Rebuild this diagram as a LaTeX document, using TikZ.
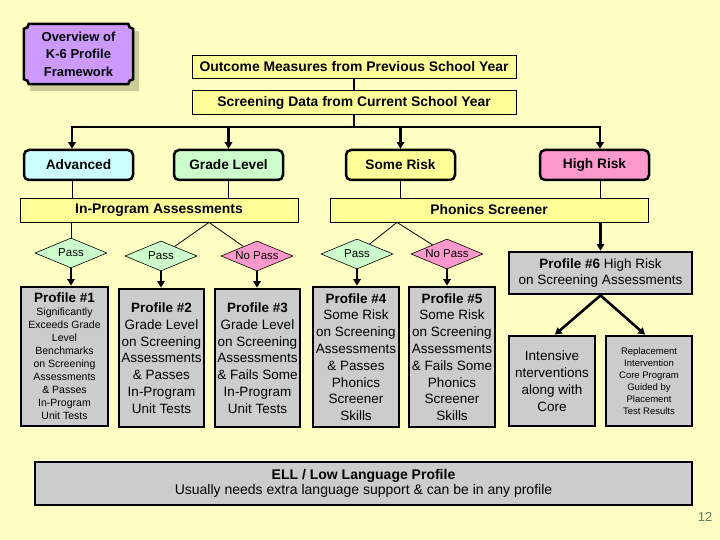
\documentclass[tikz,border=0pt]{standalone}
\usepackage{fontspec}
\setmainfont{Liberation Sans}
\usepackage{tikz}
\usetikzlibrary{%
	calc,%
	arrows.meta,%
	shapes.geometric,%
	positioning,%
	backgrounds,%
}
\definecolor{cpaper}{RGB}{255, 255, 196}
\definecolor{cbar}{RGB}{255, 255, 153}
\definecolor{cgrey}{RGB}{204, 204, 204}
\definecolor{cgreenlight}{RGB}{204, 255, 204}
\definecolor{cpink}{RGB}{255, 153, 204}
\definecolor{ccyan}{RGB}{204, 255, 255}
\definecolor{cpurple}{RGB}{204, 153, 255}
\definecolor{cshadow}{RGB}{204, 204, 153}
\definecolor{cpagenum}{RGB}{96, 128, 96}
\tikzset{
	>={Triangle[width=7.5pt,length=6.5pt]},%
	nodes={align=center, inner sep=0pt},%
	bar/.style={%
			draw,%
			rectangle,%
			line width=0.8pt,%
			fill=cbar,%
			font=\fontsize{13.9}{16}\selectfont\bfseries},%
	level/.style={%
			draw,%
			rectangle,%
			line width=2.5pt,%
			rounded corners=5pt,%
			minimum width=109pt,%
			minimum height=30pt,%
			font=\fontsize{13.7}{16}\selectfont\bfseries},%
	choice/.style={%
			draw,%
			diamond,%
			aspect=2.4,%
			line width=0.6pt,%
			minimum width=72pt,%
			minimum height=30pt,%
			font=\fontsize{11.5}{13}\selectfont},%
	profile/.style={%
			draw,%
			rectangle,%
			line width=2.8pt,%
			fill=cgrey,%
			minimum width=86pt,%
			font=\fontsize{13.5}{16.8}\selectfont},%
	link/.style={line width=0.8pt},%
	push/.style={->, line width=2.6pt},%
}
\newcommand{\profilename}[1]{{\fontsize{13.5}{16}\selectfont\bfseries #1}}

\begin{document}
\begin{tikzpicture}[x=1pt, y=1pt]%
	\begin{scope}[on background layer]
		\fill[cpaper] (0,0) rectangle (720,-540);
	\end{scope}

	\node[font=\fontsize{13}{17.5}\selectfont\bfseries, minimum width=109pt, minimum height=60pt] (overview) at (78.5,-54) {Overview of\\K-6 Profile\\Framework};

	\begin{scope}[on background layer]
		\fill[cshadow] ([shift={(6pt,-7pt)}]overview.north west) rectangle ([shift={(6pt,-7pt)}]overview.south east);
		\draw[line width=2.5pt, fill=cpurple] ([xshift=5pt]overview.north west) -- ([xshift=-5pt]overview.north east)
			arc[start angle=180, end angle=270, radius=5pt] -- ([yshift=5pt]overview.south east)
			arc[start angle=90, end angle=180, radius=5pt] -- ([xshift=5pt]overview.south west)
			arc[start angle=0, end angle=90, radius=5pt] -- ([yshift=-5pt]overview.north west)
			arc[start angle=270, end angle=360, radius=5pt] -- cycle;
	\end{scope}

	\node[bar, minimum width=324pt, minimum height=23pt] (outcome) at (354,-66.5) {Outcome Measures from Previous School Year};

	\node[bar, minimum width=324pt, minimum height=24pt] (screening) [below=12pt of outcome] {Screening Data from Current School Year};

	\node[level, fill=ccyan] (advanced) at (78.5,-165) {Advanced};
	\node[level, fill=cgreenlight] (grade) at (228.5,-165) {Grade Level};
	\node[level, fill=cbar] (somerisk) at (400.5,-165) {Some Risk};
	\node[level, fill=cpink] (highrisk) at (594.5,-165) {High Risk};

	\node[bar, minimum width=278pt, minimum height=24pt] (inprog) at (159,-210) {In-Program Assessments};
	\node[bar, minimum width=318pt, minimum height=24pt] (phonics) at (489,-210) {Phonics Screener};

	\node[choice, fill=cgreenlight] (pass1) at (71,-253) {Pass};
	\node[choice, fill=cgreenlight] (pass2) at (161,-256) {Pass};
	\node[choice, fill=cpink] (nopass3) at (257,-256) {No Pass};
	\node[choice, fill=cgreenlight] (pass4) at (357,-254) {Pass};
	\node[choice, fill=cpink] (nopass5) at (447,-254) {No Pass};

	\node[profile, minimum width=87pt, minimum height=139pt, font=\fontsize{10.5}{13}\selectfont] (prof1) at (64.5,-356.5) {\profilename{Profile \#1}\\
		Significantly\\ Exceeds Grade\\ Level\\ Benchmarks\\ on Screening\\ Assessments\\ \& Passes\\ In-Program\\ Unit Tests};

	\node[profile, minimum width=85pt, minimum height=138pt] (prof2) at (161.5,-358) {\profilename{Profile \#2}\\
		Grade Level\\ on Screening\\ Assessments\\ \& Passes\\ In-Program\\ Unit Tests};

	\node[profile, minimum width=85pt, minimum height=138pt] (prof3) at (257.5,-358) {\profilename{Profile \#3}\\
		Grade Level\\ on Screening\\ Assessments\\ \& Fails Some\\ In-Program\\ Unit Tests};

	\node[profile, minimum height=140pt] (prof4) at (356,-357) {\profilename{Profile \#4}\\
		Some Risk\\ on Screening\\ Assessments\\ \& Passes\\ Phonics\\ Screener\\ Skills};

	\node[profile, minimum height=140pt] (prof5) at (452,-357) {\profilename{Profile \#5}\\
		Some Risk\\ on Screening\\ Assessments\\ \& Fails Some\\ Phonics\\ Screener\\ Skills};

	\node[profile, minimum width=183pt, minimum height=42pt] (prof6) at (600.5,-273) {\profilename{Profile \#6} High Risk\\ on Screening Assessments};

	\node[profile, minimum height=90pt] (intensive) at (552,-381) {Intensive\\ nterventions\\ along with\\ Core};

	\node[profile, minimum height=90pt, font=\fontsize{9.5}{12}\selectfont] (replacement) at (649,-381) {Replacement\\ Intervention\\ Core Program\\ Guided by\\ Placement\\ Test Results};

	\node[profile, minimum width=657pt, minimum height=43pt, font=\fontsize{14}{15}\selectfont] (ell) at (363.5,-483.5) {\textbf{ELL / Low Language Profile}\\
		Usually needs extra language support \& can be in any profile};

	\node[font=\fontsize{13}{15}\selectfont, text=cpagenum] (pagenum) at (705,-517) {12};

	\coordinate (trunk) at ($(screening.south)+(0,-12)$);
	\coordinate (ipsplit) at ([xshift=50pt]inprog.south);
	\coordinate (phsplit) at ([xshift=-92pt]phonics.south);

	\draw[push, -] (outcome) -- (screening);
	\draw[push, -] (screening) -- (trunk);
	\draw[push] (trunk) -| ([xshift=-6.5pt]advanced.north);
	\draw[push] (trunk) -| (grade.north);
	\draw[push] (trunk) -| (somerisk.north);
	\draw[push] (trunk) -| ([xshift=5.5pt]highrisk.north);

	\draw[link] ([xshift=-6.5pt]advanced.south) -- ([xshift=-6.5pt]advanced.south |- inprog.north);
	\draw[link] (grade) -- (grade |- inprog.north);
	\draw[link] (somerisk) -- (somerisk |- phonics.north);
	\draw[link] ([xshift=5.5pt]highrisk.south) -- ([xshift=5.5pt]highrisk.south |- phonics.north);

	\draw[link] (pass1 |- inprog.south) -- (pass1);
	\draw[link] (pass2) -- (ipsplit) -- (nopass3);
	\draw[link] (pass4) -- (phsplit) -- (nopass5);

	\draw[push] (pass1) -- (pass1 |- prof1.north);
	\draw[push] (pass2) -- (pass2 |- prof2.north);
	\draw[push] (nopass3) -- (nopass3 |- prof3.north);
	\draw[push] (pass4) -- (pass4 |- prof4.north);
	\draw[push] (nopass5) -- (nopass5 |- prof5.north);

	\draw[push] (prof6 |- phonics.south) -- (prof6);
	\draw[push] (prof6.south) -- ([xshift=3pt]intensive.north);
	\draw[push] (prof6.south) -- ([xshift=-4pt]replacement.north);
\end{tikzpicture}
\end{document}
